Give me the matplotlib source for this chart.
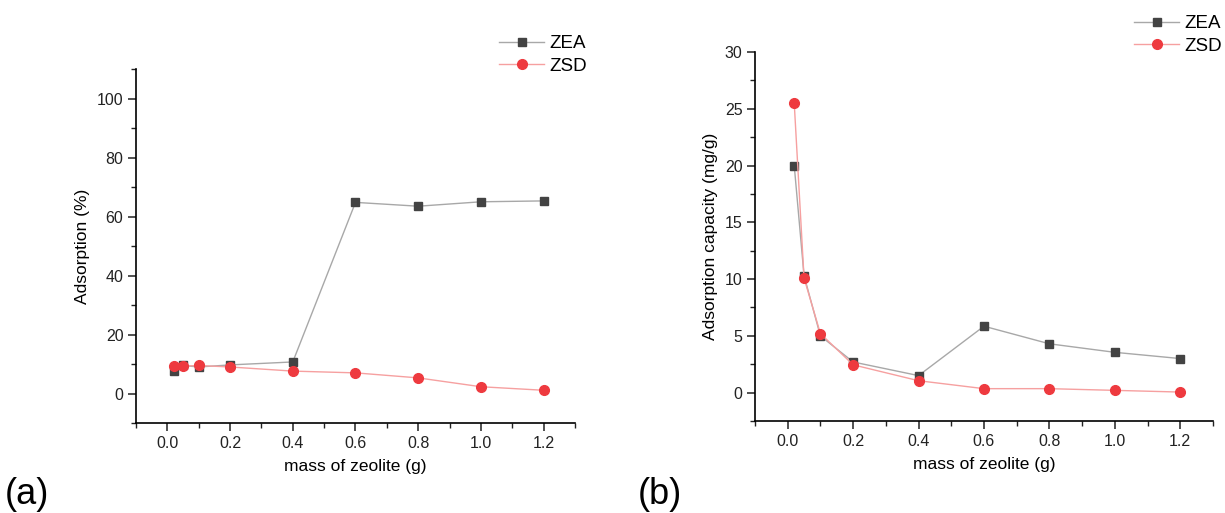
import matplotlib
matplotlib.use('Agg')
import matplotlib.pyplot as plt
from matplotlib.ticker import MultipleLocator, AutoMinorLocator

plt.rcParams['font.family'] = ['Liberation Sans', 'DejaVu Sans']

# 数据
mass = [0.02, 0.05, 0.1, 0.2, 0.4, 0.6, 0.8, 1.0, 1.2]
zea_ads = [7.5, 9.5, 9.0, 9.7, 10.7, 64.8, 63.5, 65.0, 65.3]
zsd_ads = [9.3, 9.3, 9.5, 9.0, 7.6, 7.0, 5.3, 2.3, 1.1]
zea_cap = [20.0, 10.3, 5.0, 2.7, 1.5, 5.85, 4.3, 3.55, 3.0]
zsd_cap = [25.5, 10.1, 5.2, 2.45, 1.05, 0.35, 0.35, 0.2, 0.05]
x_ticks = [0.0, 0.2, 0.4, 0.6, 0.8, 1.0, 1.2]

fig = plt.figure(figsize=(12.25, 5.13), dpi=100)
ax1 = fig.add_axes([0.111, 0.1754, 0.3584, 0.690])
ax2 = fig.add_axes([0.6163, 0.1793, 0.3739, 0.7193])


def style_axis(ax):
    for s in ['top', 'right']:
        ax.spines[s].set_visible(False)
    for s in ['left', 'bottom']:
        ax.spines[s].set_linewidth(1.2)
    ax.tick_params(which='major', direction='out', length=6, width=1.1,
                   labelsize=11.5, pad=3, colors='#222222')
    ax.tick_params(which='minor', direction='out', length=3.5, width=1.0,
                   colors='#222222')
    ax.set_xticks(x_ticks)
    ax.xaxis.set_major_formatter(plt.FormatStrFormatter('%.1f'))
    ax.xaxis.set_minor_locator(AutoMinorLocator(2))
    ax.yaxis.set_minor_locator(AutoMinorLocator(2))
    ax.set_xlim(-0.1, 1.3)
    ax.set_xlabel('mass of zeolite (g)', fontsize=12.5, labelpad=6)


def draw(ax, zea, zsd):
    ax.plot(mass, zea, color='#a8a8a8', linewidth=1.0, marker='s',
            markersize=6, markerfacecolor='#434343', markeredgecolor='#434343',
            label='ZEA', zorder=3)
    ax.plot(mass, zsd, color='#f6a0a0', linewidth=1.0, marker='o',
            markersize=7, markerfacecolor='#ee3a3f', markeredgecolor='#ee3a3f',
            label='ZSD', zorder=4)


def add_legend(ax, x, y):
    ax.legend(loc='upper left', bbox_to_anchor=(x / 1225, 1 - y / 513),
              bbox_transform=fig.transFigure, frameon=False, fontsize=13.5,
              handlelength=2.4, handletextpad=0.3, labelspacing=0.3,
              borderpad=0, borderaxespad=0)


# (a) 吸附率
draw(ax1, zea_ads, zsd_ads)
style_axis(ax1)
ax1.set_ylim(-10, 110)
ax1.yaxis.set_major_locator(MultipleLocator(20))
ax1.set_ylabel('Adsorption (%)', fontsize=12.5, labelpad=5)
add_legend(ax1, 499, 35)

# (b) 吸附容量
draw(ax2, zea_cap, zsd_cap)
style_axis(ax2)
ax2.set_ylim(-2.5, 30)
ax2.yaxis.set_major_locator(MultipleLocator(5))
ax2.set_ylabel('Adsorption capacity (mg/g)', fontsize=12.5, labelpad=5)
add_legend(ax2, 1134, 15)

fig.text(5 / 1225, 1 - 504 / 513, '(a)', fontsize=26, ha='left', va='baseline')
fig.text(638 / 1225, 1 - 504 / 513, '(b)', fontsize=26, ha='left', va='baseline')

plt.savefig('out.png', dpi=100)
plt.close()
